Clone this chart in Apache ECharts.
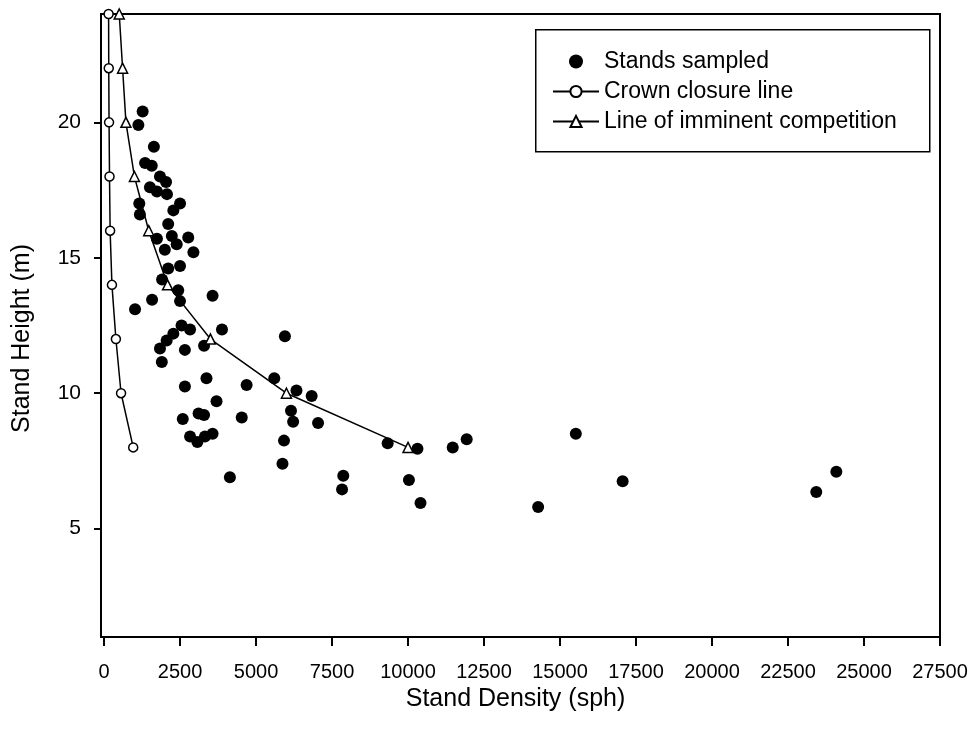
<!DOCTYPE html>
<html>
<head>
<meta charset="utf-8">
<script src="https://cdn.jsdelivr.net/npm/echarts@6/dist/echarts.min.js"></script>
<style>
html,body{margin:0;padding:0;background:#fff;}
#chart{width:980px;height:743px;}
</style>
</head>
<body>
<div id="chart"></div>
<script>
// Stands sampled (density sph, height m)
const standDensity = [1270,1130,1640,1350,1570,1840,2040,1510,1740,2070,1160,2500,1180,2280,2110,1740,2230,2770,2390,2000,2940,2110,2500,1910,2440,2500,1580,1020,3570,2550,2830,2280,2060,2660,1840,3290,3880,1900,3370,2660,4690,5600,5950,3700,2590,3110,3290,4530,2830,3070,3320,3570,4140,6330,6830,6150,6220,7040,5920,5870,7870,7830,9330,10310,10030,10410,11470,11930,15520,17060,14280,24090,23430];
const standHeight  = [20.4,19.9,19.1,18.5,18.4,18.0,17.8,17.6,17.45,17.35,17.0,17.0,16.6,16.75,16.25,15.7,15.8,15.75,15.5,15.3,15.2,14.6,14.7,14.2,13.8,13.4,13.45,13.1,13.6,12.5,12.35,12.2,11.95,11.6,11.65,11.75,12.35,11.15,10.55,10.25,10.3,10.55,12.1,9.7,9.05,9.25,9.2,9.1,8.4,8.2,8.4,8.5,6.9,10.1,9.9,9.35,8.95,8.9,8.25,7.4,6.95,6.45,8.15,7.95,6.8,5.95,8.0,8.3,8.5,6.75,5.8,7.1,6.35];
// Crown closure line
const crownDensity = [150,155,165,180,200,260,390,560,960];
const crownHeight  = [24,22,20,18,16,14,12,10,8];
// Line of imminent competition
const competitionDensity = [500,610,720,1000,1470,2090,3500,6000,10000];
const competitionHeight  = [24,22,20,18,16,14,12,10,8];
// Tick labels
const xTicks = [0,2500,5000,7500,10000,12500,15000,17500,20000,22500,25000,27500];
const yTicks = [5,10,15,20];

const pairs = (xs, ys) => xs.map((x, i) => [x, ys[i]]);
const FONT = '"Liberation Sans", Arial, sans-serif';

const chart = echarts.init(document.getElementById('chart'), null, {renderer: 'canvas'});
chart.setOption({
  animation: false,
  backgroundColor: '#fff',
  grid: {left: 101, right: 40, top: 14, bottom: 106, show: true, borderColor: '#000', borderWidth: 2, backgroundColor: 'transparent'},
  xAxis: {
    type: 'value', min: -100, max: 27500,
    name: 'Stand Density (sph)', nameLocation: 'middle', nameGap: 47,
    nameTextStyle: {fontFamily: FONT, fontSize: 25, color: '#000', padding: [0, 10, 0, 0]},
    axisLine: {show: true, onZero: false, lineStyle: {color: '#000', width: 2}},
    axisTick: {show: true, length: 9, lineStyle: {color: '#000', width: 2}, customValues: xTicks},
    axisLabel: {fontFamily: FONT, fontSize: 20, color: '#000', margin: 25, customValues: xTicks,
      formatter: v => String(v)},
    splitLine: {show: false}
  },
  yAxis: {
    type: 'value', min: 1, max: 24,
    name: 'Stand Height (m)', nameLocation: 'middle', nameGap: 66, nameRotate: 90,
    nameTextStyle: {fontFamily: FONT, fontSize: 25, color: '#000', padding: [0, 26, 0, 0]},
    axisLine: {show: true, onZero: false, lineStyle: {color: '#000', width: 2}},
    axisTick: {show: true, length: 7, lineStyle: {color: '#000', width: 2}, customValues: yTicks},
    axisLabel: {fontFamily: FONT, fontSize: 21, color: '#000', margin: 20, customValues: yTicks,
      formatter: v => String(v)},
    splitLine: {show: false}
  },
  legend: {
    orient: 'vertical', left: 552, top: 50,
    itemWidth: 46, itemHeight: 14, itemGap: 7,
    padding: 0,
    textStyle: {fontFamily: FONT, fontSize: 23, color: '#000', padding: [0,0,0,0]},
    data: ['Stands sampled', 'Crown closure line', 'Line of imminent competition']
  },
  graphic: [{
    type: 'rect', left: 535, top: 29, shape: {width: 394, height: 122},
    style: {fill: 'transparent', stroke: '#000', lineWidth: 1.5}, z: 100
  }],
  series: [
    {
      name: 'Stands sampled', type: 'scatter', z: 2,
      symbol: 'circle', symbolSize: 12,
      itemStyle: {color: '#000', opacity: 1},
      data: pairs(standDensity, standHeight)
    },
    {
      name: 'Crown closure line', type: 'line', z: 3,
      symbol: 'circle', symbolSize: 9, showAllSymbol: true,
      lineStyle: {color: '#000', width: 1.5},
      itemStyle: {color: '#fff', borderColor: '#000', borderWidth: 1.5},
      data: pairs(crownDensity, crownHeight)
    },
    {
      name: 'Line of imminent competition', type: 'line', z: 4,
      symbol: 'triangle', symbolSize: 10, showAllSymbol: true,
      lineStyle: {color: '#000', width: 1.5},
      itemStyle: {color: '#fff', borderColor: '#000', borderWidth: 1.5},
      data: pairs(competitionDensity, competitionHeight)
    }
  ]
});
</script>
</body>
</html>
